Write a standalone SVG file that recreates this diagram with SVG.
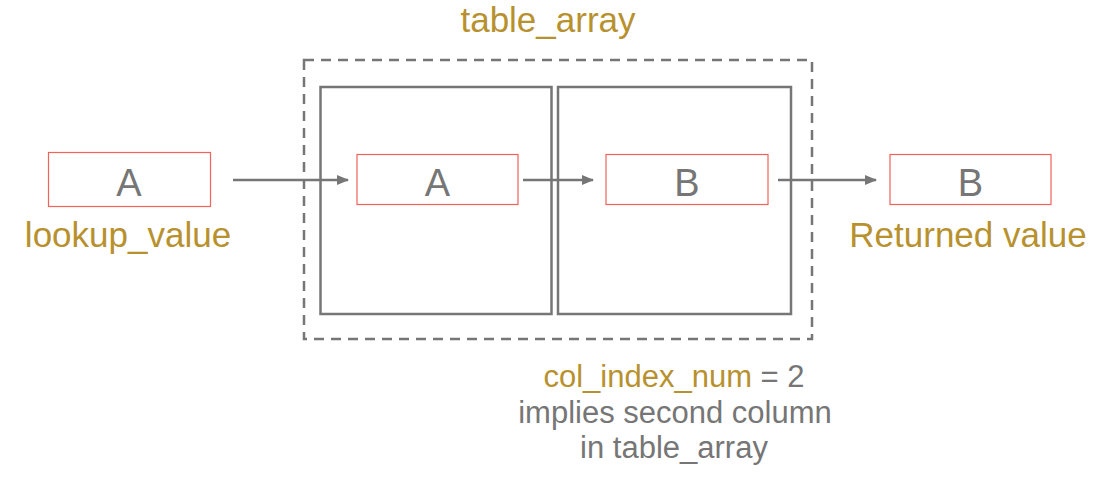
<svg xmlns="http://www.w3.org/2000/svg" width="1108" height="482" viewBox="0 0 1108 482">
<defs>
<style>
.lbl{font-family:"Liberation Sans",Arial,sans-serif;font-size:35px;fill:#B8912F;text-anchor:middle}
.let{font-family:"Liberation Sans",Arial,sans-serif;font-size:38px;fill:#767676;text-anchor:middle}
.note{font-family:"Liberation Sans",Arial,sans-serif;font-size:31px;fill:#767676;text-anchor:middle}
.cell{fill:#fff;stroke:#F0625A;stroke-width:1.2}
.col{fill:none;stroke:#767676;stroke-width:2.5}
.conn{stroke:#767676;stroke-width:2.5;fill:none;marker-end:url(#ah)}
</style>
<marker id="ah" viewBox="0 0 10 10" refX="9" refY="5" markerWidth="5" markerHeight="5" orient="auto" markerUnits="strokeWidth">
<path d="M0,1 L10,5 L0,9 z" fill="#767676"/>
</marker>
</defs>
<rect width="1108" height="482" fill="#fff"/>
<g id="table_array">
<rect x="304" y="60" width="508" height="279" fill="none" stroke="#767676" stroke-width="2.5" stroke-dasharray="10,7"/>
<text class="lbl" x="548" y="32">table_array</text>
</g>
<g id="column1"><rect class="col" x="320.5" y="87" width="231" height="227"/></g>
<g id="column2"><rect class="col" x="558" y="87" width="233" height="227"/></g>
<g id="lookup">
<rect class="cell" x="48.5" y="152.5" width="162" height="54"/>
<text class="let" x="129" y="196">A</text>
<text class="lbl" x="128" y="247">lookup_value</text>
</g>
<g id="cellA">
<rect class="cell" x="357" y="154.5" width="161" height="50"/>
<text class="let" x="437.5" y="196">A</text>
</g>
<g id="cellB">
<rect class="cell" x="606" y="154.5" width="162" height="50"/>
<text class="let" x="687" y="196">B</text>
</g>
<g id="result">
<rect class="cell" x="890" y="154.5" width="161" height="50"/>
<text class="let" x="970.5" y="196">B</text>
<text class="lbl" x="968" y="247">Returned value</text>
</g>
<g id="note">
<text class="note" x="674" y="387"><tspan fill="#B8912F">col_index_num</tspan> = 2</text>
<text class="note" x="675" y="423">implies second column</text>
<text class="note" x="674" y="458">in table_array</text>
</g>
<g id="connectors">
<line class="conn" x1="233" y1="180" x2="348" y2="180"/>
<line class="conn" x1="523" y1="180" x2="593" y2="180"/>
<line class="conn" x1="778" y1="180" x2="876" y2="180"/>
</g>
</svg>
